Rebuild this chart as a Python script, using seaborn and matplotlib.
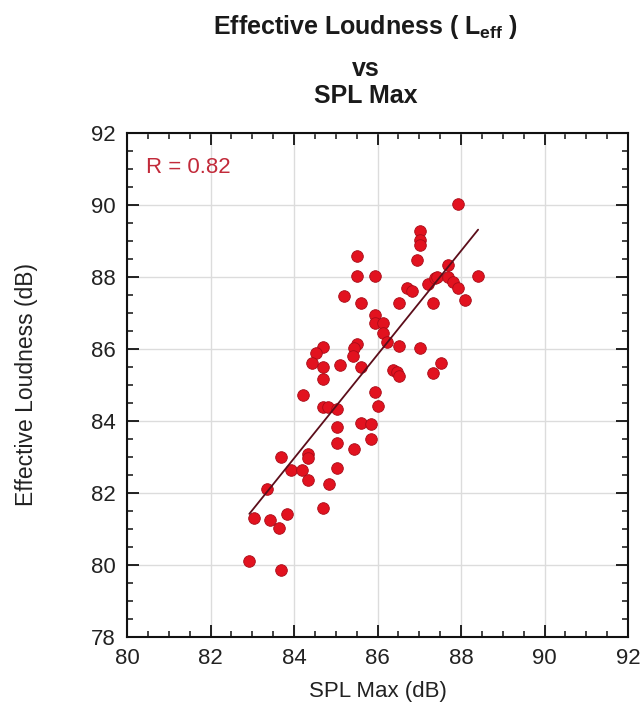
import matplotlib
matplotlib.use("Agg")
import matplotlib.pyplot as plt
from matplotlib.ticker import MultipleLocator
import numpy as np
import pandas as pd
import seaborn as sns

# SPL Max (dB) for each recording
spl_max = [
    85.52, 85.52, 85.94, 85.20, 85.60, 85.94, 85.94, 86.12, 86.12, 86.22,
    86.52, 87.02, 87.51, 86.38, 86.47, 86.52, 87.32, 85.94, 84.21, 84.70,
    84.53, 85.50, 85.44, 85.42, 84.42, 84.70, 85.10, 85.60, 84.70, 86.94,
    87.02, 87.02, 87.02, 86.70, 86.82, 86.52, 87.34, 88.10, 88.41, 87.70,
    87.22, 87.38, 87.42, 87.70, 87.82, 87.94, 87.92, 84.70, 84.82, 85.02,
    86.02, 85.02, 85.60, 85.84, 85.84, 85.02, 85.44, 84.34, 84.34, 83.70,
    83.92, 84.20, 84.34, 85.02, 84.84, 83.35, 84.70, 83.03, 83.43, 83.63,
    83.84, 82.93, 83.70,
]
# Effective loudness L_eff (dB) for the same recordings
l_eff = [
    88.58, 88.04, 88.04, 87.47, 87.27, 86.94, 86.73, 86.73, 86.45, 86.19,
    86.08, 86.04, 85.60, 85.42, 85.35, 85.25, 85.34, 84.81, 84.72, 86.05,
    85.88, 86.14, 86.04, 85.81, 85.60, 85.51, 85.56, 85.51, 85.17, 88.47,
    89.28, 89.03, 88.89, 87.69, 87.60, 87.27, 87.27, 87.36, 88.04, 88.33,
    87.80, 87.96, 88.01, 88.01, 87.87, 87.69, 90.02, 84.38, 84.38, 84.32,
    84.43, 83.84, 83.95, 83.91, 83.49, 83.38, 83.22, 83.08, 82.98, 82.99,
    82.64, 82.64, 82.37, 82.69, 82.25, 82.10, 81.57, 81.31, 81.25, 81.04,
    81.41, 80.12, 79.86,
]
r_label = "R = 0.82"

df = pd.DataFrame({"spl": spl_max, "leff": l_eff})

sns.set_theme(style="white")
plt.rcParams["font.family"] = ["Liberation Sans", "DejaVu Sans"]
plt.rcParams["mathtext.fontset"] = "custom"
plt.rcParams["mathtext.rm"] = "Liberation Sans"
plt.rcParams["mathtext.bf"] = "Liberation Sans:bold"

fig = plt.figure(figsize=(6.41, 7.04), dpi=100)
ax = fig.add_axes([127 / 641, 1 - 637 / 704, 501 / 641, 504 / 704])

sns.regplot(
    data=df, x="spl", y="leff", ax=ax, ci=None, truncate=True,
    scatter_kws=dict(s=70, color="#e2121f", edgecolor="#a80c18",
                     linewidths=0.6, alpha=1, zorder=3),
    line_kws=dict(color="#5c0d1a", linewidth=1.3, zorder=4),
)

ax.set_xlim(80, 92)
ax.set_ylim(78, 92)
ax.xaxis.set_major_locator(MultipleLocator(2))
ax.xaxis.set_minor_locator(MultipleLocator(0.5))
ax.yaxis.set_major_locator(MultipleLocator(2))
ax.yaxis.set_minor_locator(MultipleLocator(0.5))
ax.tick_params(which="both", direction="in", top=True, right=True,
               bottom=True, left=True, color="#111111")
ax.tick_params(which="major", length=8.5, width=1.3, labelsize=16,
               pad=8, labelcolor="#222222")
ax.tick_params(which="minor", length=4.5, width=1.1)
ax.grid(True, which="major", color="#dcdcdc", linewidth=1.0, zorder=0)
ax.set_axisbelow(True)
for s in ax.spines.values():
    s.set_color("#111111")
    s.set_linewidth(1.5)

ax.set_xlabel("SPL Max (dB)", fontsize=16, color="#222222")
ax.xaxis.set_label_coords(0.5, -(692 - 637) / 504)
ax.xaxis.label.set_va("center")
ax.set_ylabel("Effective Loudness (dB)", fontsize=16.5, color="#222222",
              labelpad=38)

ax.text(80.45, 91.03, r_label, fontsize=16, color="#c22a3a",
        ha="left", va="center")

title_kw = dict(fontsize=18, fontweight="bold", ha="center", va="center",
                color="#1a1a1a")
fig.text(366 / 641, 1 - 27 / 704,
         r"Effective Loudness ( L$_{\mathbf{eff}}$ )", **title_kw)
fig.text(366 / 641, 1 - 69 / 704, "vs", **title_kw)
fig.text(366 / 641, 1 - 96 / 704, "SPL Max", **title_kw)

fig.savefig("out.png", dpi=100, facecolor="white")
